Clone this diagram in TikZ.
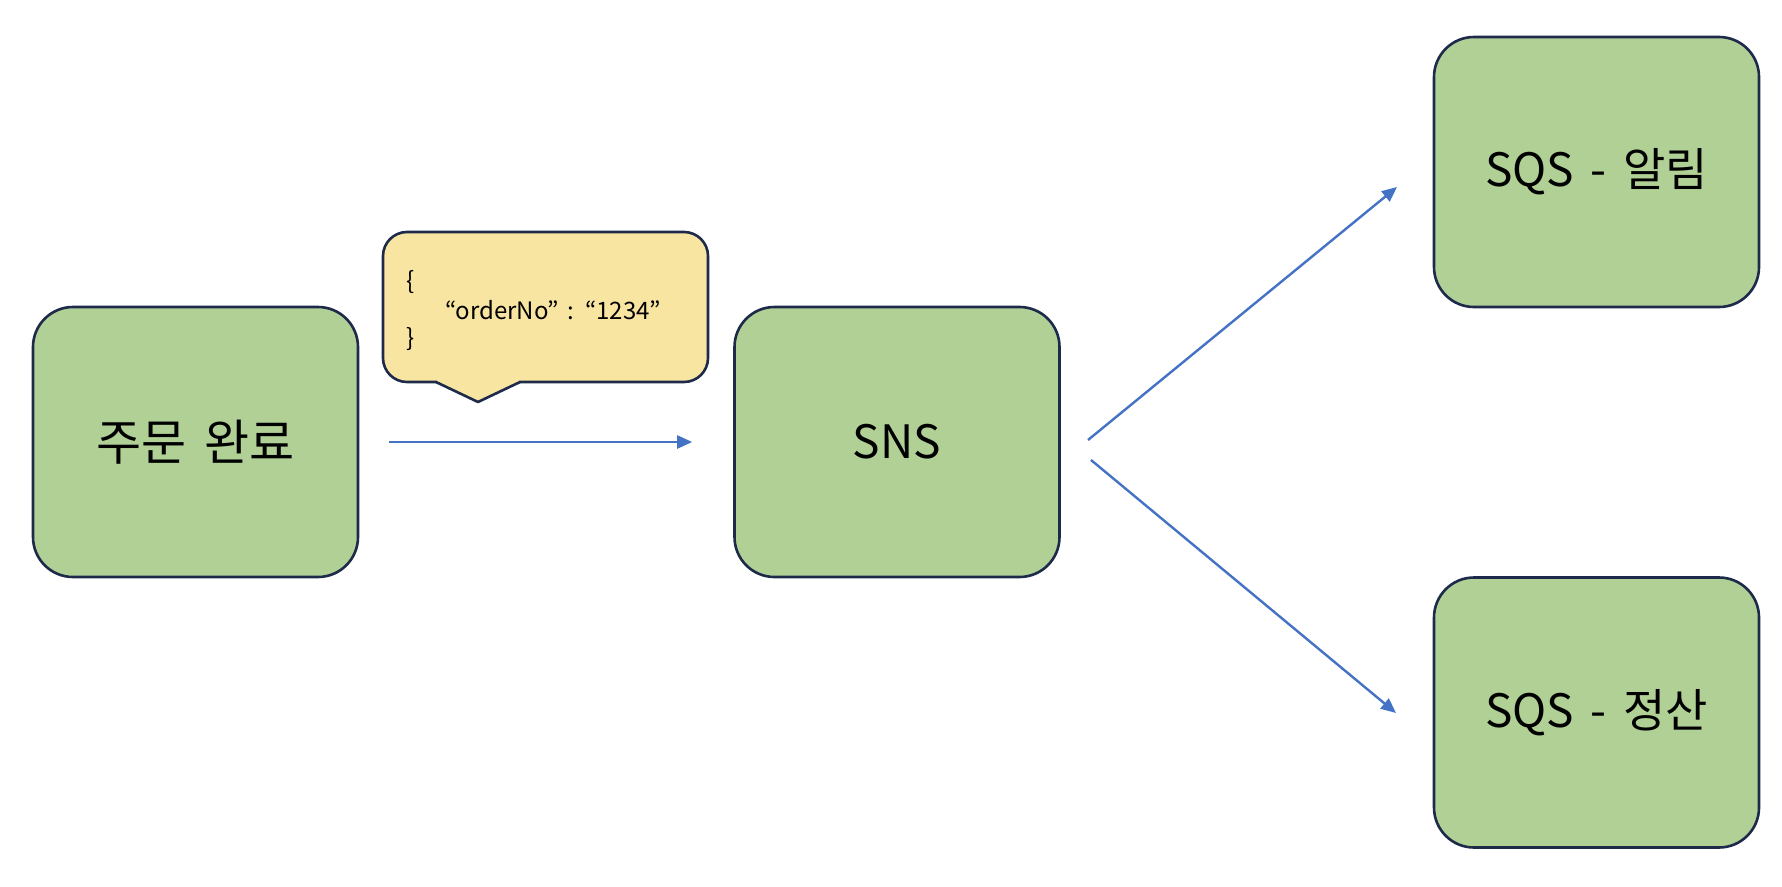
\documentclass[tikz,border=0pt]{standalone}
\usepackage{fontspec}
\setmainfont[WordSpace=1.6]{Noto Sans CJK KR}
\usetikzlibrary{arrows.meta}
\definecolor{boxgreen}{RGB}{176,208,150}
\definecolor{boxline}{RGB}{30,42,74}
\definecolor{calloutfill}{RGB}{249,229,162}
\definecolor{arrowblue}{RGB}{68,114,196}
\tikzset{
  greenbox/.style={draw=boxline, line width=2.6pt, fill=boxgreen, rounded corners=40pt,
    minimum width=325pt, minimum height=270pt, inner sep=0pt,
    font=\fontsize{46pt}{54pt}\selectfont},
  bigtext/.style={font=\fontsize{49pt}{56pt}\selectfont},
  calloutbox/.style={draw=boxline, line width=2.6pt, fill=calloutfill, rounded corners=24pt,
    minimum width=325pt, minimum height=150pt, inner sep=0pt},
  jsontext/.style={font=\fontsize{24pt}{28pt}\selectfont, inner sep=0pt, anchor=west},
  flow/.style={draw=arrowblue, line width=2.4pt, -{Triangle[length=15pt,width=13pt]}}
}
\begin{document}
\begin{tikzpicture}[x=1pt,y=-1pt]
\useasboundingbox (0,0) rectangle (1782,886);
\node[greenbox, bigtext] (order) at (195.5,442) {주문 완료};
\node[greenbox] (sns) at (897,442) {SNS};
\node[greenbox] (sqsA) at (1596.5,172) {SQS - 알림};
\node[greenbox] (sqsB) at (1596.5,712.5) {SQS - 정산};
% callout
\node[calloutbox] (msg) at (545.5,307) {};
\fill[calloutfill] (437,378) -- (519,378) -- (519,382) -- (478,402) -- (437,382) -- cycle;
\draw[boxline, line width=2.6pt, line join=round] (436,382) -- (478,402) -- (520,382);
\node[jsontext] (jopen) at (406,282) {\{};
\node[jsontext] (jbody) at (445,310) {“orderNo” : “1234”};
\node[jsontext] (jclose) at (406,339) {\}};
% connectors
\draw[flow, shorten <=30pt, shorten >=41pt] (order.east) -- (sns.west);
\coordinate (upS) at (1088,440);
\coordinate (upE) at (1397,187);
\coordinate (dnS) at (1091,460);
\coordinate (dnE) at (1396,713);
\draw[flow] (upS) -- (upE);
\draw[flow] (dnS) -- (dnE);
\end{tikzpicture}
\end{document}
